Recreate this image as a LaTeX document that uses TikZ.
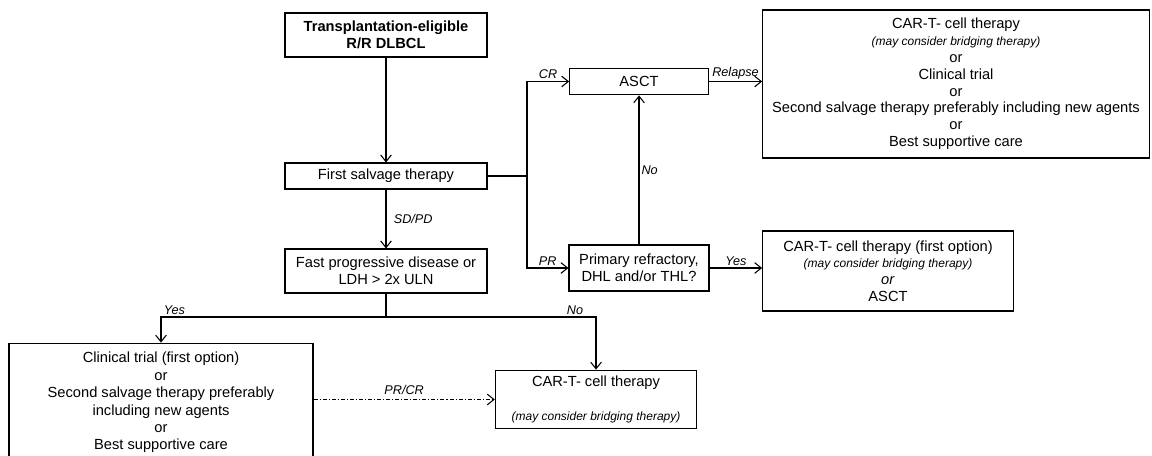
\documentclass[tikz,border=0pt]{standalone}
\usepackage{fontspec}
\setmainfont{Liberation Sans}
\usetikzlibrary{arrows.meta}

\tikzset{
  box/.style={draw=black, line width=0.8pt, align=center, inner sep=1pt,
    font=\fontsize{11}{12.6}\selectfont},
  lbl/.style={font=\fontsize{9.5}{10}\selectfont\itshape, inner sep=1.5pt},
  arr/.style={-{Straight Barb[length=5pt,width=8pt]}},
}
\newcommand{\bridging}{{\fontsize{9}{10}\selectfont\itshape (may consider bridging therapy)}}

\begin{document}
\begin{tikzpicture}[x=0.75pt,y=-0.75pt,line width=0.8pt]
    \useasboundingbox (0,0) rectangle (1152,456);

    \node[box, font={\fontsize{11}{12.6}\selectfont\bfseries}, minimum width=151.5pt, minimum height=33pt] (elig) at (386,35) {Transplantation-eligible\\R/R DLBCL};
    \node[box, minimum width=151.5pt, minimum height=19.5pt] (salv) at (386,176) {First salvage therapy};
    \node[box, minimum width=151.5pt, minimum height=33pt] (fast) at (386,271) {Fast progressive disease or\\LDH > 2x ULN};
    \node[box, minimum width=104pt, minimum height=20pt] (asct) at (639,81.5) {ASCT};
    \node[box, minimum width=105pt, minimum height=34.5pt] (prim) at (639,268) {Primary refractory,\\DHL and/or THL?};
    \node[box, minimum width=290pt, minimum height=111pt] (relapse) at (956,84) {CAR-T- cell therapy\\\bridging\\or\\Clinical trial\\or\\Second salvage therapy preferably including new agents\\or\\Best supportive care};
    \node[box, minimum width=188pt, minimum height=60pt] (cartA) at (888,271) {CAR-T- cell therapy (first option)\\\bridging\\\textit{or}\\ASCT};
    % bottom edge runs past the page, as in the original
    \node[box, font=\fontsize{11}{13.1}\selectfont, minimum width=228pt, minimum height=89pt] (trial) at (161,402.5) {Clinical trial (first option)\\or\\Second salvage therapy preferably\\including new agents\\or\\Best supportive care};
    \node[box, minimum width=151pt, minimum height=44pt] (cartB) at (596,399.5) {CAR-T- cell therapy\\[13pt]\bridging};

    \coordinate (split) at (527,176);
    \coordinate (fork) at (386,317);

    \draw[arr] (elig) -- (salv);
    \draw (salv) -- (split);
    \draw[arr] (split) |- node[lbl, above, pos=0.75] {CR} (asct);
    \draw[arr] (split) |- node[lbl, above, pos=0.75] {PR} (prim);
    \draw[arr] (prim) -- node[lbl, right] {No} (asct);
    \draw[arr] (asct.east) -- node[lbl, above] {Relapse} (asct.east -| relapse.west);
    \draw[arr] (prim.east) -- node[lbl, above] {Yes} (prim.east -| cartA.west);

    \draw[arr] (salv) -- node[lbl, right, xshift=4pt] {SD/PD} (fast);
    \draw (fast) -- (fork);
    \draw[arr] (fork) -| node[lbl, above, pos=0.47] {Yes} (trial);
    \draw[arr] (fork) -| node[lbl, above, pos=0.45] {No} (cartB);

    \draw[arr, dash pattern=on 3pt off 1.5pt on 0.8pt off 1.5pt] (trial.east |- cartB) -- node[lbl, above, yshift=2pt] {PR/CR} (cartB.west);
\end{tikzpicture}
\end{document}
